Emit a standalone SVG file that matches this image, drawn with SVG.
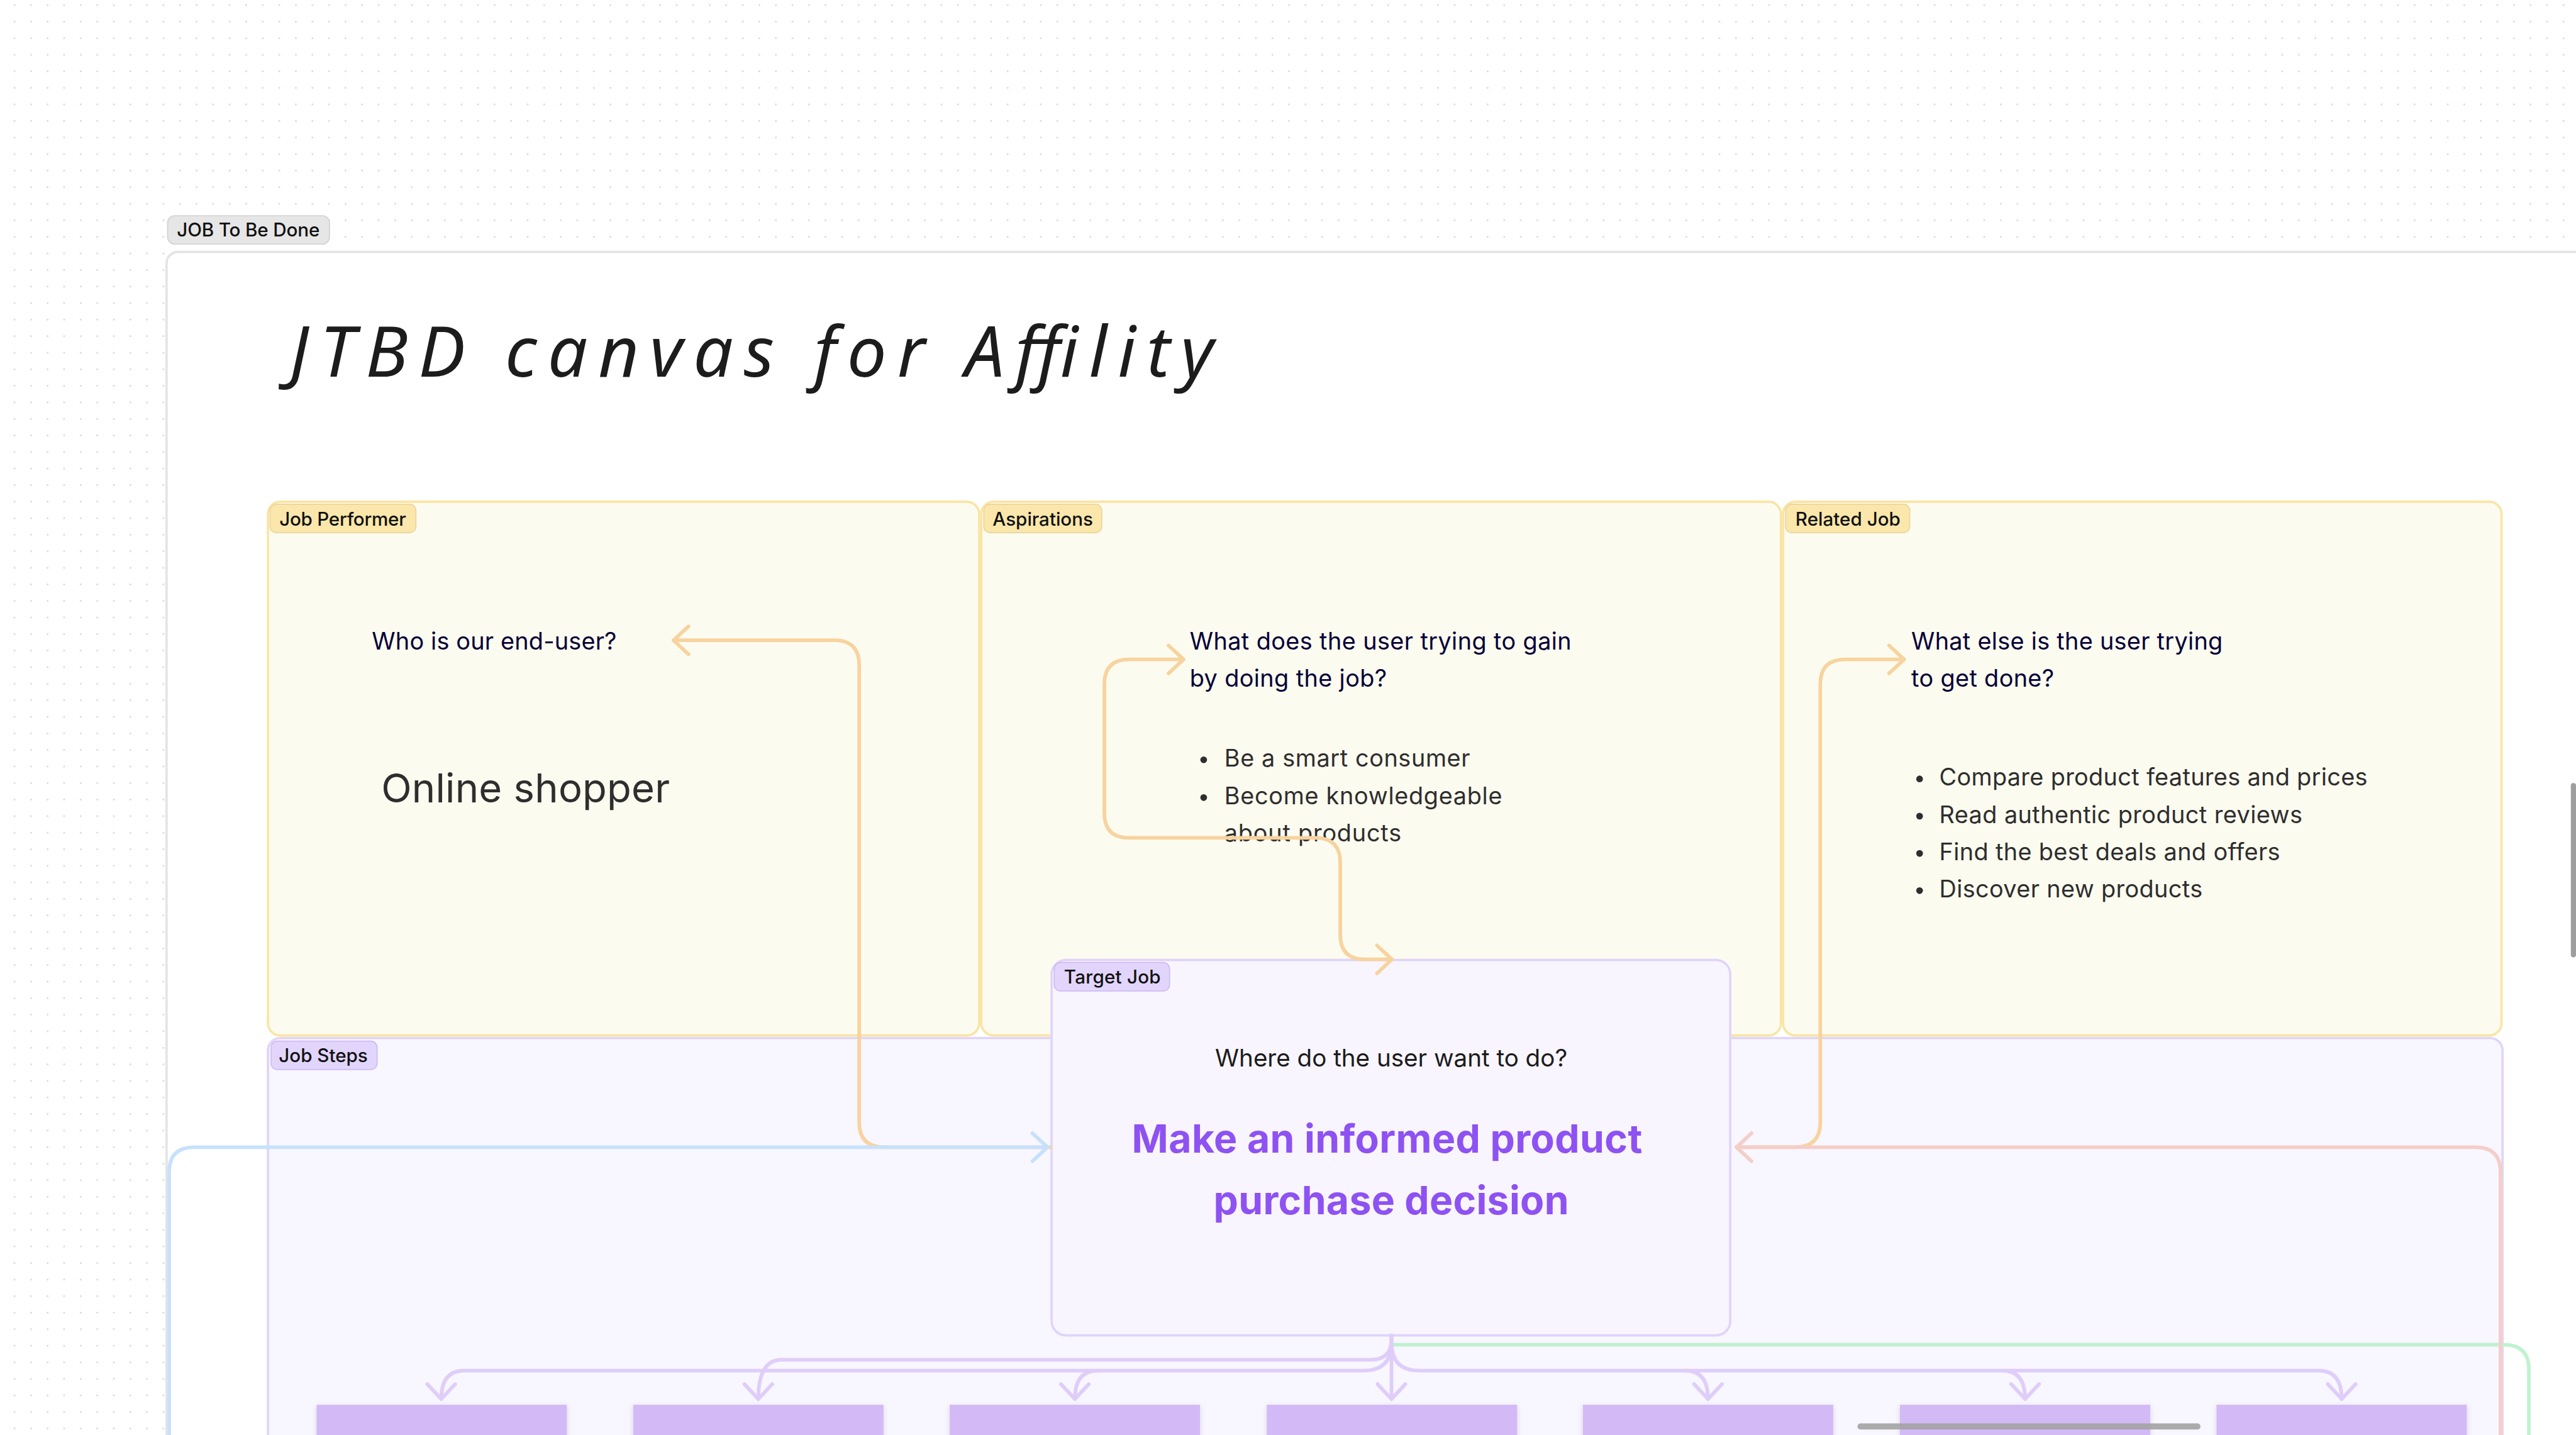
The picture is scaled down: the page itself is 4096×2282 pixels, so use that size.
<svg xmlns="http://www.w3.org/2000/svg" width="4096" height="2282" viewBox="0 0 4096 2282">
<defs>
<style>
.t{font-family:Inter,"Liberation Sans",sans-serif}
.q{font-size:46px;fill:#050038}
.b{font-size:46px;fill:#2e2e2e}
.badge{font-size:36px;font-weight:500;fill:#111}
.yp{fill:#fcfbef;stroke:#f9e5a4;stroke-width:4.5}
.yb{fill:#fbe7ab;stroke:#ebd49a;stroke-width:2}
.pb{fill:#e2d5fb;stroke:#cdbbf3;stroke-width:2}
.step{fill:#d3baf6}
.c{fill:none;stroke-width:7;stroke-linecap:round;stroke-linejoin:round}
.co{stroke:#f7d39f}.cb{stroke:#c6e1fb}.cp{stroke:#f4cec8}.cg{stroke:#bff2cf}.cv{stroke:#dfcdf9}
</style>
<pattern id="dots" patternUnits="userSpaceOnUse" x="12" y="-6" width="32" height="32">
<circle cx="16" cy="16" r="1.7" fill="#d6d6d6"/>
</pattern>
<filter id="sh" x="-10%" y="-20%" width="120%" height="150%">
<feDropShadow dx="0" dy="3" stdDeviation="6" flood-color="#000" flood-opacity="0.12"/>
</filter>
<marker id="aO" markerUnits="userSpaceOnUse" orient="auto-start-reverse" overflow="visible" markerWidth="1" markerHeight="1"><path d="M-29,-27 L0,0 L-29,27" fill="none" stroke="#f7d39f" stroke-width="7" stroke-linecap="round" stroke-linejoin="round"/></marker>
<marker id="aB" markerUnits="userSpaceOnUse" orient="auto" overflow="visible" markerWidth="1" markerHeight="1"><path d="M-29,-27 L0,0 L-29,27" fill="none" stroke="#c6e1fb" stroke-width="7" stroke-linecap="round" stroke-linejoin="round"/></marker>
<marker id="aP" markerUnits="userSpaceOnUse" orient="auto" overflow="visible" markerWidth="1" markerHeight="1"><path d="M-29,-27 L0,0 L-29,27" fill="none" stroke="#f4cec8" stroke-width="7" stroke-linecap="round" stroke-linejoin="round"/></marker>
<marker id="aV" markerUnits="userSpaceOnUse" orient="auto" overflow="visible" markerWidth="1" markerHeight="1"><path d="M-29,-27 L0,0 L-29,27" fill="none" stroke="#dfcdf9" stroke-width="7" stroke-linecap="round" stroke-linejoin="round"/></marker>
</defs>
<g transform="scale(0.82249)">
<rect x="0" y="0" width="4980" height="2774" fill="#ffffff"/>
<rect x="0" y="0" width="4980" height="2774" fill="url(#dots)"/>

<g id="frame">
<rect x="322" y="487" width="4800" height="2500" rx="22" fill="#ffffff" stroke="#e4e4e4" stroke-width="4.5"/>
<rect x="324" y="417" width="313" height="55" rx="14" fill="#e6e6e6" stroke="#d2cfcf" stroke-width="2"/>
<text class="t badge" x="342" y="457" textLength="276">JOB To Be Done</text>
</g>

<g id="title">
<text x="560" y="728" font-family="'Noto Sans','DejaVu Sans',sans-serif" font-style="italic" font-size="136" fill="#1c1c1c" textLength="1786" lengthAdjust="spacing">JTBD canvas for Affility</text>
</g>

<g id="job-performer">
<rect class="yp" x="518" y="970" width="1375" height="1032" rx="24"/>
<rect class="yb" x="522" y="975" width="282" height="55" rx="12"/>
<text class="t badge" x="540" y="1016" textLength="245">Job Performer</text>
<text class="t q" x="719" y="1256" textLength="473">Who is our end-user?</text>
<text class="t" x="737" y="1551" font-size="77" fill="#2e2e2e" textLength="558">Online shopper</text>
</g>

<g id="aspirations">
<rect class="yp" x="1897" y="970" width="1546" height="1032" rx="24"/>
<rect class="yb" x="1902" y="975" width="228" height="55" rx="12"/>
<text class="t badge" x="1919" y="1016" textLength="194">Aspirations</text>
<text class="t q" x="2300" y="1256" textLength="738">What does the user trying to gain</text>
<text class="t q" x="2300" y="1328" textLength="381">by doing the job?</text>
<circle cx="2327" cy="1469" r="6.5" fill="#2e2e2e"/>
<circle cx="2327" cy="1542" r="6.5" fill="#2e2e2e"/>
<text class="t b" x="2367" y="1482" textLength="475">Be a smart consumer</text>
<text class="t b" x="2367" y="1555" textLength="537">Become knowledgeable</text>
<text class="t b" x="2367" y="1627" textLength="342">about products</text>
</g>

<g id="related-job">
<rect class="yp" x="3447" y="970" width="1389" height="1032" rx="24"/>
<rect class="yb" x="3452" y="975" width="240" height="55" rx="12"/>
<text class="t badge" x="3471" y="1016" textLength="203">Related Job</text>
<text class="t q" x="3695" y="1256" textLength="602">What else is the user trying</text>
<text class="t q" x="3695" y="1328" textLength="276">to get done?</text>
<circle cx="3711" cy="1506" r="6.5" fill="#2e2e2e"/>
<circle cx="3711" cy="1578" r="6.5" fill="#2e2e2e"/>
<circle cx="3711" cy="1650" r="6.5" fill="#2e2e2e"/>
<circle cx="3711" cy="1722" r="6.5" fill="#2e2e2e"/>
<text class="t b" x="3749" y="1519" textLength="828">Compare product features and prices</text>
<text class="t b" x="3749" y="1591" textLength="702">Read authentic product reviews</text>
<text class="t b" x="3749" y="1663" textLength="659">Find the best deals and offers</text>
<text class="t b" x="3749" y="1735" textLength="509">Discover new products</text>
</g>

<g id="job-steps">
<rect x="518" y="2007" width="4320" height="1000" rx="24" fill="#f8f6fe" stroke="#e0d4fa" stroke-width="4.5"/>
<rect class="pb" x="524" y="2013" width="205" height="55" rx="12"/>
<text class="t badge" x="539" y="2054" textLength="172">Job Steps</text>
</g>

<g id="target-job">
<rect x="2033" y="1856" width="1312" height="726" rx="28" fill="#f8f5fe" stroke="#e0d4fa" stroke-width="4.5"/>
<rect class="pb" x="2038" y="1861" width="223" height="55" rx="12"/>
<text class="t badge" x="2057" y="1902" textLength="187">Target Job</text>
<text class="t" x="2349" y="2062" font-size="47" fill="#1c1c1c" textLength="681">Where do the user want to do?</text>
<text class="t" x="2188" y="2228" font-size="76" font-weight="700" fill="#8e52f2" textLength="987">Make an informed product</text>
<text class="t" x="2346" y="2348" font-size="76" font-weight="700" fill="#8e52f2" textLength="687">purchase decision</text>
</g>

<g id="step-1"><rect class="step" filter="url(#sh)" x="612" y="2716" width="484" height="120"/></g>
<g id="step-2"><rect class="step" filter="url(#sh)" x="1224" y="2716" width="484" height="120"/></g>
<g id="step-3"><rect class="step" filter="url(#sh)" x="1836" y="2716" width="484" height="120"/></g>
<g id="step-4"><rect class="step" filter="url(#sh)" x="2449" y="2716" width="484" height="120"/></g>
<g id="step-5"><rect class="step" filter="url(#sh)" x="3060" y="2716" width="484" height="120"/></g>
<g id="step-6"><rect class="step" filter="url(#sh)" x="3673" y="2716" width="484" height="120"/></g>
<g id="step-7"><rect class="step" filter="url(#sh)" x="4285" y="2716" width="484" height="120"/></g>

<g id="connectors">
<path class="c cg" d="M2693 2600 H4841 Q4889 2600 4889 2648 V2800"/>
<path class="c co" d="M2030 2218 H1709 Q1661 2218 1661 2170 V1286 Q1661 1238 1613 1238 H1302" marker-end="url(#aO)"/>
<path class="c co" d="M2691 1855 H2639 Q2591 1855 2591 1807 V1668 Q2591 1620 2543 1620 H2183 Q2135 1620 2135 1572 V1323 Q2135 1275 2183 1275 H2288" marker-start="url(#aO)" marker-end="url(#aO)"/>
<path class="c co" d="M3362 2218 H3471 Q3519 2218 3519 2170 V1323 Q3519 1275 3567 1275 H3681" marker-end="url(#aO)"/>
<path class="c cb" d="M327 2800 V2266 Q327 2218 375 2218 H2025" marker-end="url(#aB)"/>
<path class="c cp" d="M4834 2800 V2266 Q4834 2218 4786 2218 H3357" marker-end="url(#aP)"/>
<path class="c cv" d="M2690 2582 V2705" marker-end="url(#aV)"/>
<path class="c cv" d="M2690 2582 V2590 Q2690 2629 2650 2629 H1511 Q1466 2629 1466 2705" marker-end="url(#aV)"/>
<path class="c cv" d="M2690 2582 V2596 Q2690 2650 2636 2650 H897 Q853 2650 853 2705" marker-end="url(#aV)"/>
<path class="c cv" d="M2122 2650 Q2078 2650 2078 2705" marker-end="url(#aV)"/>
<path class="c cv" d="M2690 2582 V2596 Q2690 2650 2744 2650 H4483 Q4527 2650 4527 2705" marker-end="url(#aV)"/>
<path class="c cv" d="M3258 2650 Q3302 2650 3302 2705" marker-end="url(#aV)"/>
<path class="c cv" d="M3871 2650 Q3915 2650 3915 2705" marker-end="url(#aV)"/>
</g>

<rect x="4970" y="1514" width="10" height="337" rx="5" fill="#9e9e9e"/>
<rect x="3591" y="2752" width="663" height="12" rx="6" fill="#a3a3a3" opacity="0.9"/>
</g>
</svg>
